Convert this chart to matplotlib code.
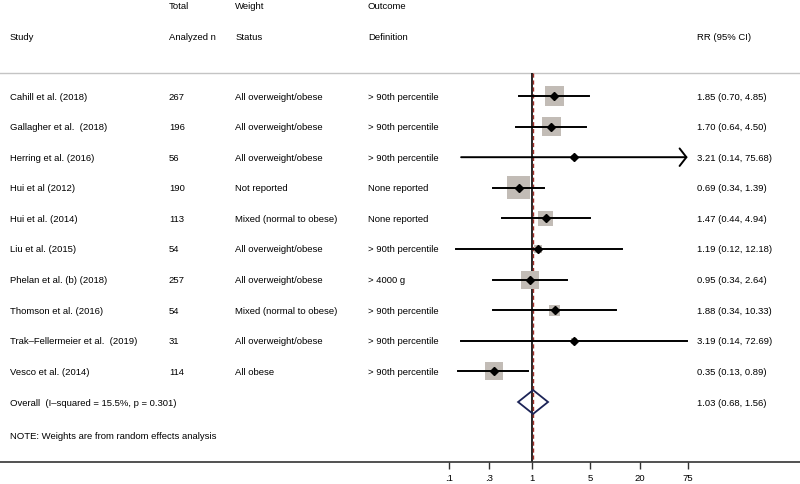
import matplotlib

matplotlib.use("Agg")

import numpy as np
import matplotlib.pyplot as plt
from matplotlib.patches import Polygon

plt.rcParams["font.family"] = ["Liberation Sans", "DejaVu Sans"]

# study data
studies = [
    "Cahill et al. (2018)",
    "Gallagher et al.  (2018)",
    "Herring et al. (2016)",
    "Hui et al (2012)",
    "Hui et al. (2014)",
    "Liu et al. (2015)",
    "Phelan et al. (b) (2018)",
    "Thomson et al. (2016)",
    "Trak\u2013Fellermeier et al.  (2019)",
    "Vesco et al. (2014)",
]
total_n = ["267", "196", "56", "190", "113", "54", "257", "54", "31", "114"]
weight_status = [
    "All overweight/obese",
    "All overweight/obese",
    "All overweight/obese",
    "Not reported",
    "Mixed (normal to obese)",
    "All overweight/obese",
    "All overweight/obese",
    "Mixed (normal to obese)",
    "All overweight/obese",
    "All obese",
]
outcome_def = [
    "> 90th percentile",
    "> 90th percentile",
    "> 90th percentile",
    "None reported",
    "None reported",
    "> 90th percentile",
    "> 4000 g",
    "> 90th percentile",
    "> 90th percentile",
    "> 90th percentile",
]
rr = [1.85, 1.70, 3.21, 0.69, 1.47, 1.19, 0.95, 1.88, 3.19, 0.35]
ci_low = [0.70, 0.64, 0.14, 0.34, 0.44, 0.12, 0.34, 0.34, 0.14, 0.13]
ci_high = [4.85, 4.50, 75.68, 1.39, 4.94, 12.18, 2.64, 10.33, 72.69, 0.89]
# approximate random-effects weights (%)
weights = [15.2, 15.2, 1.1, 22.3, 9.5, 2.7, 13.7, 5.1, 1.5, 13.7]

overall_rr = 1.03
overall_low = 0.68
overall_high = 1.56
overall_label = "Overall  (I\u2013squared = 15.5%, p = 0.301)"
note = "NOTE: Weights are from random effects analysis"

xticks = [0.1, 0.3, 1, 5, 20, 75]
xtick_labels = [".1", ".3", "1", "5", "20", "75"]
x_clip = 75

fig = plt.figure(figsize=(8, 4.85), dpi=100)
ax = fig.add_axes([0, 0, 1, 1])
ax.set_xscale("log")
# 1 -> 532 px, 83 px per decade
ax.set_xlim(10 ** (-532 / 83), 10 ** (268 / 83))
row_h = 30.6
ax.set_ylim((485 - 97) / row_h, -97 / row_h)

header_y = -0.75
axis_y = 11.96

for s in ["top", "left", "right"]:
    ax.spines[s].set_visible(False)
ax.spines["bottom"].set_position(("data", axis_y))
ax.spines["bottom"].set_color("#333333")
ax.spines["bottom"].set_linewidth(1.2)
ax.set_yticks([])
ax.set_xticks(xticks)
ax.set_xticklabels(xtick_labels)
ax.xaxis.set_minor_locator(matplotlib.ticker.NullLocator())
ax.tick_params(axis="x", direction="out", length=5, width=1, color="#333333",
               labelsize=6.8, pad=3)

ax.axhline(header_y, color="#c4c4c4", lw=1)
ax.vlines(1, header_y, axis_y, color="black", lw=1.2)
ax.vlines(overall_rr, header_y, axis_y, color="#a0302a", lw=1.0,
          linestyles=(0, (3, 2)))

rows = np.arange(len(studies))
fs = 6.8
col_x = [0.0125, 0.211, 0.294, 0.46, 0.871]
tr = ax.get_yaxis_transform()

# headers
ax.text(col_x[1], -2.97, "Total", transform=tr, fontsize=fs, va="center")
ax.text(col_x[2], -2.97, "Weight", transform=tr, fontsize=fs, va="center")
ax.text(col_x[3], -2.97, "Outcome", transform=tr, fontsize=fs, va="center")
ax.text(col_x[0], -1.96, "Study", transform=tr, fontsize=fs, va="center")
ax.text(col_x[1], -1.96, "Analyzed n", transform=tr, fontsize=fs, va="center")
ax.text(col_x[2], -1.96, "Status", transform=tr, fontsize=fs, va="center")
ax.text(col_x[3], -1.96, "Definition", transform=tr, fontsize=fs, va="center")
ax.text(col_x[4], -1.96, "RR (95% CI)", transform=tr, fontsize=fs, va="center")

for i in rows:
    ax.text(col_x[0], i, studies[i], transform=tr, fontsize=fs, va="center")
    ax.text(col_x[1], i, total_n[i], transform=tr, fontsize=fs, va="center")
    ax.text(col_x[2], i, weight_status[i], transform=tr, fontsize=fs, va="center")
    ax.text(col_x[3], i, outcome_def[i], transform=tr, fontsize=fs, va="center")
    ax.text(col_x[4], i, "%.2f (%.2f, %.2f)" % (rr[i], ci_low[i], ci_high[i]),
            transform=tr, fontsize=fs, va="center")

# weight boxes
side_px = 4.9 * np.sqrt(weights)
ax.scatter(rr, rows, marker="s", s=(side_px * 0.72) ** 2, color="#c2bcb6",
           edgecolors="none", zorder=2)

# confidence intervals
for i in rows:
    if ci_high[i] > x_clip:
        ax.annotate("", xy=(x_clip, i), xytext=(ci_low[i], i),
                    arrowprops=dict(arrowstyle="->,head_length=0.35,head_width=0.45",
                                    lw=1.4, color="black",
                                    mutation_scale=14, shrinkA=0, shrinkB=0),
                    zorder=3)
    else:
        ax.plot([ci_low[i], ci_high[i]], [i, i], color="black", lw=1.4, zorder=3)

ax.plot(rr, rows, "D", color="black", ms=3.8, zorder=4)

# overall diamond
oy = 10
dh = 0.39
ax.add_patch(Polygon([(overall_low, oy), (overall_rr, oy - dh),
                      (overall_high, oy), (overall_rr, oy + dh)],
                     closed=True, fill=False, edgecolor="#1c2457", lw=1.3,
                     zorder=4))
ax.text(col_x[0], oy, overall_label, transform=tr, fontsize=fs, va="center")
ax.text(col_x[4], oy, "%.2f (%.2f, %.2f)" % (overall_rr, overall_low, overall_high),
        transform=tr, fontsize=fs, va="center")
ax.text(col_x[0], 11.08, note, transform=tr, fontsize=fs, va="center")

fig.savefig("out.png", dpi=100)
